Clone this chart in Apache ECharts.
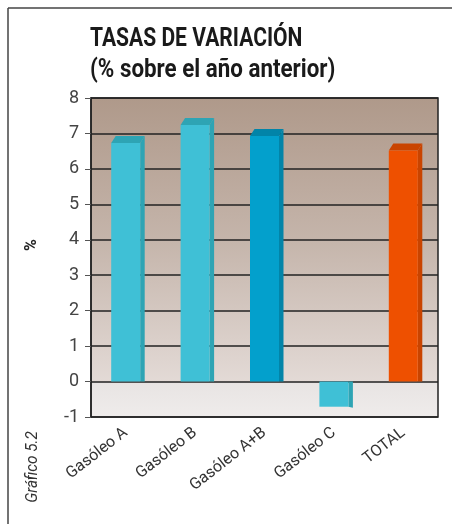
<!DOCTYPE html>
<html>
<head>
<meta charset="utf-8">
<script src="https://cdn.jsdelivr.net/npm/echarts@6/dist/echarts.min.js"></script>
<style>
  html, body { margin: 0; padding: 0; background: #fff; }
  #main { width: 452px; height: 524px; }
</style>
</head>
<body>
<div id="main"></div>
<script type="text/javascript">
	// datos del gráfico
	var categorias = ['Gasóleo A', 'Gasóleo B', 'Gasóleo A+B', 'Gasóleo C', 'TOTAL'];
	var tasas = [6.73, 7.24, 6.93, -0.71, 6.52];
	var coloresFrente = ['#3FC0D6', '#3FC0D6', '#03A0CC', '#3FC0D6', '#EE5000'];
	var coloresLado = ['#2EA4B4', '#2EA4B4', '#0284A8', '#2EA4B4', '#C94400'];

	var fuente = 'Roboto, "Liberation Sans Narrow", sans-serif';

	var myChart = echarts.init(document.getElementById('main'));

	// barra con un poco de volumen (cara frontal, lateral y superior)
	function barra3d(params, api) {
		var i = api.value(0);
		var v = api.value(1);
		var base = api.coord([i, 0]);
		var fin = api.coord([i, v]);
		var mitad = 14.5, dx = 4.5, dy = 7;
		var x0 = base[0] - mitad, x1 = base[0] + mitad;
		var hijos = [];
		if (v >= 0) {
			hijos.push({
				type: 'polygon',
				shape: { points: [[x1, fin[1]], [x1 + dx, fin[1] - dy], [x1 + dx, base[1]], [x1, base[1]]] },
				style: { fill: coloresLado[i] }
			});
			hijos.push({
				type: 'polygon',
				shape: { points: [[x0, fin[1]], [x0 + dx, fin[1] - dy], [x1 + dx, fin[1] - dy], [x1, fin[1]]] },
				style: { fill: coloresLado[i] }
			});
			hijos.push({
				type: 'rect',
				shape: { x: x0, y: fin[1], width: x1 - x0, height: base[1] - fin[1] },
				style: { fill: coloresFrente[i] }
			});
		} else {
			hijos.push({
				type: 'polygon',
				shape: { points: [[x1, base[1]], [x1 + dx, base[1]], [x1 + dx, fin[1] + 1], [x1, fin[1]]] },
				style: { fill: coloresLado[i] }
			});
			hijos.push({
				type: 'rect',
				shape: { x: x0, y: base[1], width: x1 - x0, height: fin[1] - base[1] },
				style: { fill: coloresFrente[i] }
			});
		}
		return { type: 'group', children: hijos };
	}

	myChart.setOption({
		animation: false,
		graphic: [
			{ type: 'line', shape: { x1: 8, y1: 8, x2: 452, y2: 8 }, style: { stroke: '#444', lineWidth: 1.5 } },
			{ type: 'line', shape: { x1: 8, y1: 8, x2: 8, y2: 524 }, style: { stroke: '#444', lineWidth: 1.5 } },
			// título (letra estrechada como en el original)
			{
				type: 'text', x: 90, y: 26, scaleX: 0.81,
				style: { text: 'TASAS DE VARIACIÓN', font: 'bold 26px ' + fuente, fill: '#1a1a1a' }
			},
			{
				type: 'text', x: 90, y: 57, scaleX: 0.86,
				style: { text: '(% sobre el año anterior)', font: 'bold 26px ' + fuente, fill: '#1a1a1a' }
			},
			{
				type: 'text', x: 32, y: 245, rotation: Math.PI / 2,
				style: { text: '%', font: 'bold 16px ' + fuente, fill: '#222', align: 'center', verticalAlign: 'middle' }
			},
			{
				type: 'text', x: 33, y: 467, rotation: Math.PI / 2, scaleX: 0.9,
				style: { text: 'Gráfico 5.2', font: 'italic 17px ' + fuente, fill: '#333', align: 'center', verticalAlign: 'middle' }
			}
		],
		grid: {
			left: 91, top: 98, right: 14, bottom: 107,
			show: true,
			borderColor: '#222', borderWidth: 1.5,
			backgroundColor: {
				type: 'linear', x: 0, y: 0, x2: 0, y2: 1,
				colorStops: [
					{ offset: 0, color: '#AF998A' },
					{ offset: 0.45, color: '#C5B5AB' },
					{ offset: 0.888, color: '#E3DAD6' },
					{ offset: 0.889, color: '#E8E4E3' },
					{ offset: 1, color: '#EFECEB' }
				]
			}
		},
		xAxis: {
			type: 'category',
			data: categorias,
			axisLine: { show: false },
			axisTick: { show: false },
			axisLabel: {
				interval: 0, rotate: 38, margin: 14,
				fontFamily: fuente, fontSize: 16, color: '#333'
			}
		},
		yAxis: {
			type: 'value',
			min: -1, max: 8, interval: 1,
			axisLine: { show: true, lineStyle: { color: '#222', width: 1.5 } },
			axisTick: { show: true, length: 6, lineStyle: { color: '#555' } },
			axisLabel: { margin: 12, fontFamily: fuente, fontSize: 18, color: '#444' },
			splitLine: { show: true, lineStyle: { color: '#222', width: 1.5 } }
		},
		series: [{
			name: 'Tasas de variación',
			type: 'custom',
			renderItem: barra3d,
			data: tasas.map(function (v, i) { return [i, v]; })
		}]
	});
</script>
</body>
</html>
